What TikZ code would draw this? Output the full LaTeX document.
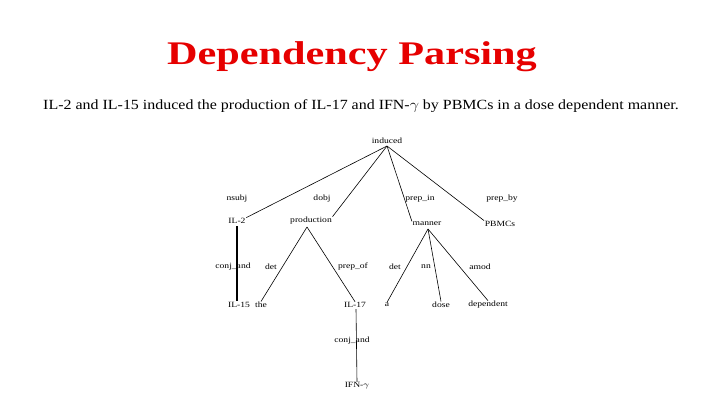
\documentclass[tikz,border=0pt]{standalone}
\usepackage{fontspec}
\setmainfont{Liberation Serif}
\definecolor{titlered}{RGB}{230,0,0}
\newcommand{\wide}[2]{\scalebox{#1}[1]{#2}}
\begin{document}
\begin{tikzpicture}[x=1pt,y=-1pt,
  w/.style={inner sep=0.5pt,font=\fontsize{8}{9}\selectfont},
  lab/.style={inner sep=0pt,font=\fontsize{8}{9}\selectfont},
  edge/.style={draw,line width=0.6pt}]
\useasboundingbox (0,0) rectangle (720,405);
\node[font=\fontsize{33}{36}\selectfont\bfseries,text=titlered] (title) at (352,57) {\wide{1.28}{Dependency Parsing}};
\node[font=\fontsize{14}{16}\selectfont] (sent) at (361,106) {\wide{1.14}{IL-2 and IL-15 induced the production of IL-17 and IFN-$\gamma$ by PBMCs in a dose dependent manner.}};
\node[w] (induced) at (387,141) {\wide{1.2}{induced}};
\node[w] (il2) at (237,221) {\wide{1.2}{IL-2}};
\node[w] (prod) at (311,221) {\wide{1.2}{production}};
\node[w] (manner) at (427,224) {\wide{1.2}{manner}};
\node[w] (pbmcs) at (500,224) {\wide{1.2}{PBMCs}};
\node[w] (il15) at (239,305) {\wide{1.2}{IL-15}};
\node[w] (the) at (261,305) {\wide{1.2}{the}};
\node[w] (il17) at (355,305) {\wide{1.2}{IL-17}};
\node[w] (a) at (387,305) {\wide{1.2}{a}};
\node[w] (dose) at (441,305) {\wide{1.2}{dose}};
\node[w] (dep) at (488,305) {\wide{1.2}{dependent}};
\node[w] (ifn) at (357,386) {\wide{1.2}{IFN-$\gamma$}};
\node[lab] (l1) at (237,199) {\wide{1.2}{nsubj}};
\node[lab] (l2) at (322,199) {\wide{1.2}{dobj}};
\node[lab] (l3) at (420,199) {\wide{1.2}{prep\_in}};
\node[lab] (l4) at (502,199) {\wide{1.2}{prep\_by}};
\node[lab] (l5) at (233,267) {\wide{1.2}{conj\_and}};
\node[lab] (l6) at (271,267) {\wide{1.2}{det}};
\node[lab] (l7) at (353,267) {\wide{1.2}{prep\_of}};
\node[lab] (l8) at (395,267) {\wide{1.2}{det}};
\node[lab] (l9) at (426,267) {\wide{1.2}{nn}};
\node[lab] (l10) at (480,267) {\wide{1.2}{amod}};
\node[lab] (l11) at (352,341) {\wide{1.2}{conj\_and}};
\coordinate (top) at (387,146);
\draw[edge] (top) -- (il2.north east);
\draw[edge] (top) -- (prod.north east);
\draw[edge] (top) -- (manner.north west);
\draw[edge] (top) -- (pbmcs.north west);
\draw[edge,line width=1.5pt] (237,226) -- (237,301);
\coordinate (pt) at (307,227);
\draw[edge] (pt) -- (the.north);
\draw[edge] (pt) -- (il17.north);
\coordinate (mt) at (428,229);
\draw[edge] (mt) -- (a.north);
\draw[edge] (mt) -- (dose.north);
\draw[edge] (mt) -- (dep.north);
\draw[edge] (356,309) -- (ifn.north);
\end{tikzpicture}
\end{document}
